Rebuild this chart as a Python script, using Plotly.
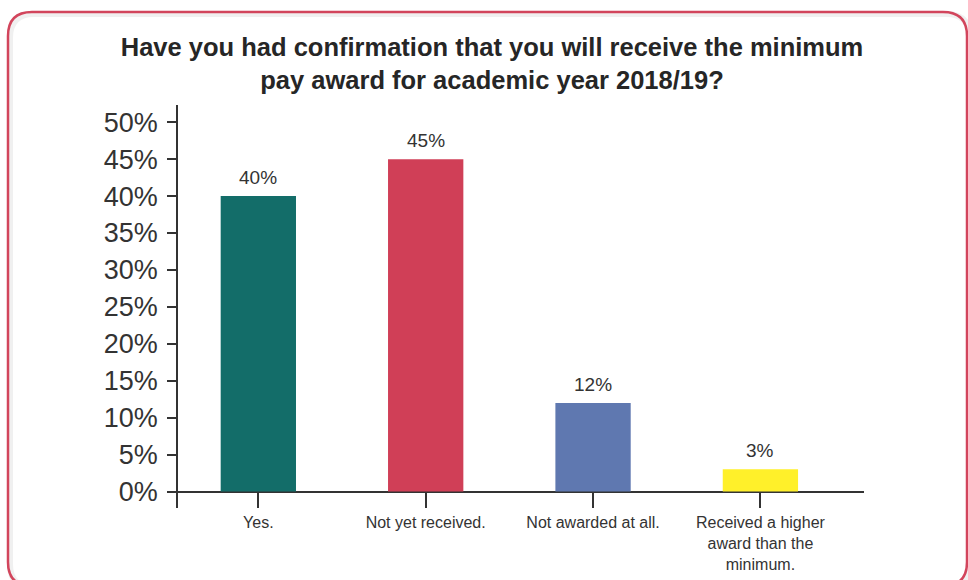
import plotly.graph_objects as go

categories = ["Yes.", "Not yet received.", "Not awarded at all.", "Received a higher<br>award than the<br>minimum."]
values = [40, 45, 12, 3]
colors = ["#136d69", "#d03f57", "#5f78b0", "#fff02a"]
y_ticks = [0, 5, 10, 15, 20, 25, 30, 35, 40, 45, 50]
y_tick_labels = [f"{v}%" for v in y_ticks]
title_text = "Have you had confirmation that you will receive the minimum<br>pay award for academic year 2018/19?"

W, H = 968, 580
ML, MR, MT, MB = 178, 104, 105, 72
PW, PH = W - ML - MR, H - MT - MB


def px(x):
    return (x - ML) / PW


def py(y):
    return (H - MB - y) / PH


def rounded_rect(x0, y0, x1, y1, r):
    pts = [
        ("M", [(x0 + r, y0)]),
        ("L", [(x1 - r, y0)]),
        ("Q", [(x1, y0), (x1, y0 + r)]),
        ("L", [(x1, y1 - r)]),
        ("Q", [(x1, y1), (x1 - r, y1)]),
        ("L", [(x0 + r, y1)]),
        ("Q", [(x0, y1), (x0, y1 - r)]),
        ("L", [(x0, y0 + r)]),
        ("Q", [(x0, y0), (x0 + r, y0)]),
    ]
    s = ""
    for cmd, ps in pts:
        s += cmd + " " + " ".join(f"{px(a):.5f},{py(b):.5f}" for a, b in ps) + " "
    return s + "Z"


fig = go.Figure()
fig.add_trace(go.Bar(
    x=list(range(len(categories))),
    y=values,
    marker=dict(color=colors, line=dict(width=0)),
    width=0.45,
    hoverinfo="skip",
))

annotations = [
    dict(x=i, y=v, xref="x", yref="y", text=f"{v}%", showarrow=False,
         yanchor="bottom", yshift=6,
         font=dict(size=19, color="#333333", family="Liberation Sans"))
    for i, v in enumerate(values)
]

fig.update_layout(
    width=W, height=H,
    margin=dict(l=ML, r=MR, t=MT, b=MB, autoexpand=False),
    paper_bgcolor="white",
    plot_bgcolor="white",
    showlegend=False,
    font=dict(family="Liberation Sans", color="#333333"),
    title=dict(
        text=title_text,
        x=492 / W, xref="container", xanchor="center",
        y=1 - 56 / H, yref="container", yanchor="middle",
        font=dict(size=25.5, color="#262626", family="Liberation Sans", weight="bold"),
    ),
    annotations=annotations,
    xaxis=dict(
        range=[-0.48, 3.619],
        automargin=False,
        tickmode="array",
        tickvals=list(range(len(categories))),
        ticktext=categories,
        ticks="inside",
        ticklen=15,
        tickwidth=1.5,
        tickcolor="#333333",
        showline=False,
        showgrid=False,
        zeroline=False,
        tickfont=dict(size=16, color="#333333"),
        ticklabelstandoff=3,
    ),
    yaxis=dict(
        range=[-2.23, 52.33],
        automargin=False,
        tickmode="array",
        tickvals=y_ticks,
        ticktext=y_tick_labels,
        ticks="outside",
        ticklen=9,
        tickwidth=1.5,
        tickcolor="#333333",
        showline=True,
        linecolor="#333333",
        linewidth=1.5,
        showgrid=False,
        zeroline=True,
        zerolinecolor="#333333",
        zerolinewidth=1.5,
        tickfont=dict(size=27, color="#333333"),
        ticklabelstandoff=4,
    ),
    shapes=[
        dict(type="path", xref="paper", yref="paper",
             path=rounded_rect(10, 14, 970, 588, 24),
             line=dict(color="rgba(0,0,0,0.06)", width=6), layer="below"),
        dict(type="path", xref="paper", yref="paper",
             path=rounded_rect(8, 12, 967, 586, 24),
             line=dict(color="#d2455c", width=2.5), layer="below"),
    ],
)

fig.write_html(
    "out.html",
    config={"displayModeBar": False},
    post_script="document.body.style.margin='0';document.body.style.overflow='hidden';",
)
